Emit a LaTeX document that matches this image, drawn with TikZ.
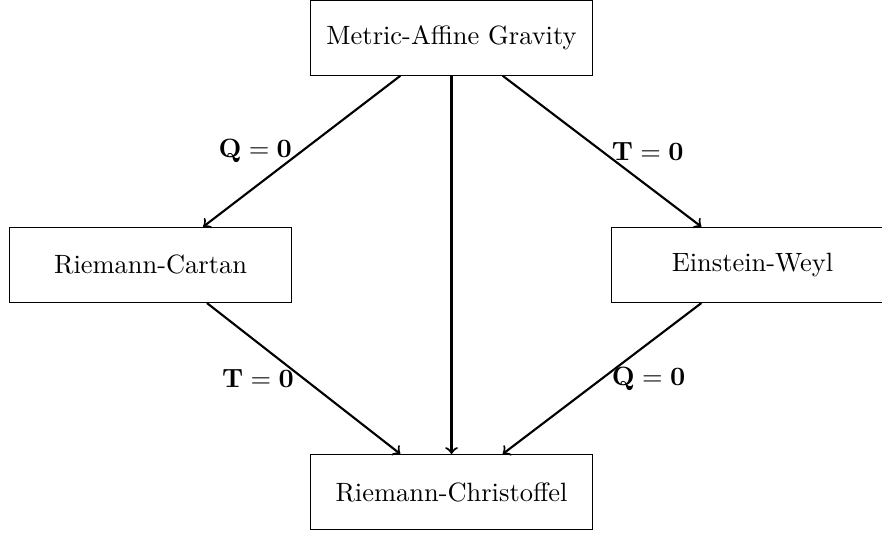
\documentclass[tikz,border=0pt]{standalone}
\usepackage{amsmath}
\usepackage{tikz}
\usetikzlibrary{calc}
\tikzset{
  gBox/.style={draw,rectangle,align=center,minimum width=3.75cm,minimum height=1cm},
  gArrow/.style={thick,->},
  gLabel/.style={font=\normalsize},
}

\begin{document}
\begin{tikzpicture}[x=1cm,y=1cm]
\useasboundingbox (-6,0.5) rectangle (5.72,-6.582);
\node[gBox] (mag)  at (0,0)  {Metric-Affine Gravity};
\node[gBox] (rc)   at (-4,-3.02) {Riemann-Cartan};
\node[gBox] (ew)   at (4,-3.02)  {Einstein-Weyl};
\node[gBox] (rchr) at (0,-6.04)  {Riemann-Christoffel};
\draw[gArrow] ([xshift=-0.68cm]mag.south) -- ([xshift=0.7cm]rc.north)
  node[midway,left,gLabel] {$\mathbf{Q=0}$};
\draw[gArrow] ([xshift=0.68cm]mag.south) -- ([xshift=-0.68cm]ew.north)
  node[midway,right,gLabel] {$\mathbf{T=0}$};
\draw[gArrow] (mag.south) -- (rchr.north);
\draw[gArrow] ([xshift=0.75cm]rc.south) -- ([xshift=-0.68cm]rchr.north)
  node[midway,left,gLabel] {$\mathbf{T=0}$};
\draw[gArrow] ([xshift=-0.68cm]ew.south) -- ([xshift=0.68cm]rchr.north)
  node[midway,right,gLabel] {$\mathbf{Q=0}$};
\end{tikzpicture}
\end{document}
